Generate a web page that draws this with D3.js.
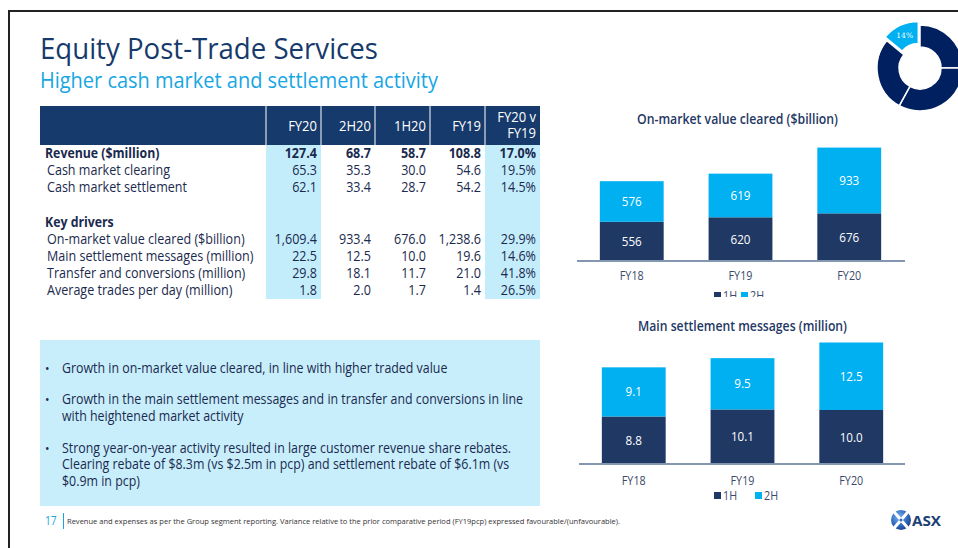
<!DOCTYPE html>
<html><head><meta charset="utf-8">
<script src="https://cdn.jsdelivr.net/npm/d3@7"></script>
<style>html,body{margin:0;padding:0;background:#fff;overflow:hidden;} svg{display:block;}</style>
</head><body>
<svg id="c" width="958" height="548"></svg>
<script>
// ---------------- DATA ----------------
const categories = ["FY18", "FY19", "FY20"];
const seriesKeys = ["1H", "2H"];
const clearedH1 = [556, 620, 676];
const clearedH2 = [576, 619, 933];
const messagesH1 = [8.8, 10.1, 10.0];
const messagesH2 = [9.1, 9.5, 12.5];

const tableHeaders = ["FY20", "2H20", "1H20", "FY19", "FY20 v|FY19"];
const rowLabels = ["Revenue ($million)", "Cash market clearing", "Cash market settlement", "Key drivers",
  "On-market value cleared ($billion)", "Main settlement messages (million)",
  "Transfer and conversions (million)", "Average trades per day (million)"];
const colFY20 = ["127.4", "65.3", "62.1", "", "1,609.4", "22.5", "29.8", "1.8"];
const col2H20 = ["68.7", "35.3", "33.4", "", "933.4", "12.5", "18.1", "2.0"];
const col1H20 = ["58.7", "30.0", "28.7", "", "676.0", "10.0", "11.7", "1.7"];
const colFY19 = ["108.8", "54.6", "54.2", "", "1,238.6", "19.6", "21.0", "1.4"];
const colChange = ["17.0%", "19.5%", "14.5%", "", "29.9%", "14.6%", "41.8%", "26.5%"];
const boldRows = [0, 3];

const bullets = [
  ["Growth in on-market value cleared, in line with higher traded value"],
  ["Growth in the main settlement messages and in transfer and conversions in line", "with heightened market activity"],
  ["Strong year-on-year activity resulted in large customer revenue share rebates.",
   "Clearing rebate of $8.3m (vs $2.5m in pcp) and settlement rebate of $6.1m (vs", "$0.9m in pcp)"]
];

const donutShares = [25, 33, 28, 14];
const donutLabel = "14%";

const titleText = "Equity Post-Trade Services";
const subtitleText = "Higher cash market and settlement activity";
const chart1Title = "On-market value cleared ($billion)";
const chart2Title = "Main settlement messages (million)";
const pageNumber = "17";
const footnote = "Revenue and expenses as per the Group segment reporting. Variance relative to the prior comparative period (FY19pcp) expressed favourable/(unfavourable).";

// ---------------- STYLE ----------------
const FONT = "'Open Sans', 'DejaVu Sans', sans-serif";
const NAVY = "#1f3864";
const LIGHT = "#00b0f0";
const TEXT = "#1a2a4e";
const HDR = "#163a6b";
const HILITE = "#c4edfc";

const svg = d3.select("#c").style("font-family", FONT);

function fitTo(sel, width) {
  sel.each(function () {
    this.setAttribute("textLength", width);
    this.setAttribute("lengthAdjust", "spacingAndGlyphs");
  });
}
function condense(sel, k) {
  sel.each(function () {
    const w = this.getComputedTextLength();
    if (w > 0) {
      this.setAttribute("textLength", w * k);
      this.setAttribute("lengthAdjust", "spacingAndGlyphs");
    }
  });
}
function measure(txt, size, weight) {
  const t = svg.append("text").attr("font-size", size).attr("font-weight", weight || 400).text(txt);
  const w = t.node().getComputedTextLength();
  t.remove();
  return w;
}
const K = 140 / measure("Cash market settlement", 14);

// ---------------- FRAME ----------------
svg.append("line").attr("x1", 8).attr("x2", 958).attr("y1", 11).attr("y2", 11)
  .attr("stroke", "#222").attr("stroke-width", 2);
svg.append("line").attr("x1", 9).attr("x2", 9).attr("y1", 11).attr("y2", 548)
  .attr("stroke", "#222").attr("stroke-width", 2);

// ---------------- TITLES ----------------
svg.append("text").attr("x", 40).attr("y", 59).attr("font-size", 29).attr("fill", "#173a6c")
  .text(titleText).call(fitTo, 338);
svg.append("text").attr("x", 40).attr("y", 88).attr("font-size", 21).attr("fill", "#17a6e4")
  .text(subtitleText).call(fitTo, 398);

// ---------------- DONUT ----------------
const pie = d3.pie().sort(null).value(d => d);
const arcs = pie(donutShares);
const arcGen = d3.arc().innerRadius(21).outerRadius(43);
const dg = svg.append("g").attr("transform", "translate(920,68)");
arcs.forEach((a, i) => {
  const light = i === arcs.length - 1;
  const mid = (a.startAngle + a.endAngle) / 2;
  const off = light ? 4 : 0;
  dg.append("path").attr("d", arcGen(a))
    .attr("transform", `translate(${off * Math.sin(mid)},${-off * Math.cos(mid)})`)
    .attr("fill", light ? LIGHT : "#002060").attr("stroke", "#fff").attr("stroke-width", 1.5);
  if (light) {
    const c = arcGen.centroid(a);
    dg.append("text").attr("x", c[0] + off * Math.sin(mid)).attr("y", c[1] - off * Math.cos(mid) + 2.5)
      .attr("text-anchor", "middle").attr("font-size", 7.5).attr("font-family", "'DejaVu Serif', serif")
      .attr("fill", "#fff").text(donutLabel);
  }
});

// ---------------- TABLE ----------------
const colEdges = [266, 321, 375, 430, 485, 540];
const rowY = [158, 175, 192, 227, 244, 261, 278, 295];
const columns = [colFY20, col2H20, col1H20, colFY19, colChange];
const tg = svg.append("g");
tg.append("rect").attr("x", 40).attr("y", 106).attr("width", 500).attr("height", 39).attr("fill", HDR);
[0, 4].forEach(ci => {
  tg.append("rect").attr("x", colEdges[ci]).attr("y", 145).attr("width", colEdges[ci + 1] - colEdges[ci])
    .attr("height", 154).attr("fill", HILITE);
});
colEdges.slice(0, 5).forEach(x => {
  tg.append("line").attr("x1", x).attr("x2", x).attr("y1", 106).attr("y2", 145)
    .attr("stroke", "#d9e1ea").attr("stroke-width", 1.2);
});
tableHeaders.forEach((h, i) => {
  const parts = h.split("|");
  const x = colEdges[i + 1] - 4;
  parts.forEach((p, j) => {
    const y = parts.length === 1 ? 131 : 122 + j * 16;
    tg.append("text").attr("x", x).attr("y", y).attr("text-anchor", "end").attr("font-size", 14.5)
      .attr("fill", "#fff").text(p).call(condense, K);
  });
});
rowLabels.forEach((lab, r) => {
  const bold = boldRows.includes(r);
  tg.append("text").attr("x", bold ? 45 : 47).attr("y", rowY[r]).attr("font-size", 14)
    .attr("font-weight", bold ? 700 : 400).attr("fill", TEXT).text(lab).call(condense, bold ? K * 0.98 : K);
  columns.forEach((col, ci) => {
    if (!col[r]) return;
    tg.append("text").attr("x", colEdges[ci + 1] - 4).attr("y", rowY[r]).attr("text-anchor", "end")
      .attr("font-size", 14).attr("font-weight", r === 0 ? 700 : 400).attr("fill", TEXT)
      .text(col[r]).call(condense, K);
  });
});

// ---------------- BULLET BOX ----------------
svg.append("rect").attr("x", 40).attr("y", 340).attr("width", 500).attr("height", 166).attr("fill", "#c8eefc");
const bulletY = [[373], [404, 421], [453, 469, 486]];
const KB = 461 / measure(bullets[1][0], 14);
bullets.forEach((lines, bi) => {
  svg.append("text").attr("x", 45).attr("y", bulletY[bi][0]).attr("font-size", 12).attr("fill", TEXT).text("•");
  lines.forEach((ln, li) => {
    svg.append("text").attr("x", 62).attr("y", bulletY[bi][li]).attr("font-size", 14).attr("fill", TEXT)
      .text(ln).call(condense, KB);
  });
});

// ---------------- BAR CHARTS ----------------
function barChart(opts) {
  const g = svg.append("g");
  if (opts.clipY) {
    const id = "clip" + opts.id;
    svg.append("defs").append("clipPath").attr("id", id).append("rect")
      .attr("x", 560).attr("y", 90).attr("width", 400).attr("height", opts.clipY - 90);
    g.attr("clip-path", `url(#${id})`);
  }
  const rows = categories.map((c, i) => ({ cat: c, "1H": opts.h1[i], "2H": opts.h2[i] }));
  const x = d3.scaleBand().domain(categories).range(opts.xRange).paddingInner(0.413).paddingOuter(0.21);
  const y = d3.scaleLinear().domain(opts.yDomain).range(opts.yRange);
  const stack = d3.stack().keys(seriesKeys)(rows);
  const colors = { "1H": NAVY, "2H": LIGHT };

  g.append("text").attr("x", opts.titleX).attr("y", opts.titleY).attr("text-anchor", "middle")
    .attr("font-size", 14.5).attr("font-weight", 600).attr("fill", NAVY).text(opts.title).call(fitTo, opts.titleW);

  stack.forEach(layer => {
    const lg = g.append("g");
    lg.selectAll("rect").data(layer).join("rect")
      .attr("x", d => x(d.data.cat)).attr("width", x.bandwidth())
      .attr("y", d => y(d[1])).attr("height", d => y(d[0]) - y(d[1]))
      .attr("fill", colors[layer.key]);
    lg.selectAll("text").data(layer).join("text")
      .attr("x", d => x(d.data.cat) + x.bandwidth() / 2)
      .attr("y", d => (y(d[0]) + y(d[1])) / 2 + 4.5)
      .attr("text-anchor", "middle").attr("font-size", 13).attr("fill", "#fff")
      .text(d => opts.fmt(d.data[layer.key]))
      .call(condense, K);
  });

  const ax = g.append("g").attr("transform", `translate(0,${opts.yRange[0]})`)
    .call(d3.axisBottom(x).tickSize(0).tickPadding(opts.tickPad).tickSizeOuter(0));
  ax.select(".domain").attr("stroke", "#8497b0").attr("stroke-width", 2)
    .attr("d", `M${opts.xRange[0]},0H${opts.axisEnd}`);
  ax.selectAll("text").attr("font-size", 12).attr("fill", "#3b4a6b").attr("font-family", FONT)
    .call(condense, K);

  // legend
  seriesKeys.forEach((k, i) => {
    g.append("rect").attr("x", opts.legX[i]).attr("y", opts.legY - 8).attr("width", 7).attr("height", 7)
      .attr("fill", colors[k]);
    g.append("text").attr("x", opts.legX[i] + 9).attr("y", opts.legY).attr("font-size", 12)
      .attr("fill", "#3b4a6b").text(k).call(condense, K);
  });
}

barChart({
  id: 1, h1: clearedH1, h2: clearedH2, xRange: [577, 904], axisEnd: 905,
  yDomain: [0, 2000], yRange: [261, 120], tickPad: 10.5,
  title: chart1Title, titleX: 737.5, titleY: 124, titleW: 201,
  fmt: d3.format("d"), legX: [714, 741], legY: 300, clipY: 297
});
barChart({
  id: 2, h1: messagesH1, h2: messagesH2, xRange: [579, 906], axisEnd: 905,
  yDomain: [0, 25], yRange: [464, 329], tickPad: 12.5,
  title: chart2Title, titleX: 742.5, titleY: 331, titleW: 209,
  fmt: d3.format(".1f"), legX: [714, 755], legY: 500
});

// ---------------- FOOTER ----------------
svg.append("text").attr("x", 45).attr("y", 525).attr("font-size", 12).attr("fill", "#1aa3de").text(pageNumber)
  .call(condense, 0.85);
svg.append("line").attr("x1", 63.5).attr("x2", 63.5).attr("y1", 513).attr("y2", 529)
  .attr("stroke", "#1aa3de").attr("stroke-width", 1);
svg.append("text").attr("x", 67).attr("y", 524).attr("font-size", 8).attr("fill", "#333")
  .text(footnote).call(fitTo, 553);

// ASX logo
const defs = svg.append("defs");
const grad = defs.append("radialGradient").attr("id", "asxg").attr("cx", "40%").attr("cy", "35%").attr("r", "70%");
grad.append("stop").attr("offset", "0%").attr("stop-color", "#7fb2ea");
grad.append("stop").attr("offset", "60%").attr("stop-color", "#2f6bc0");
grad.append("stop").attr("offset", "100%").attr("stop-color", "#1b3f86");
svg.append("circle").attr("cx", 901).attr("cy", 520).attr("r", 10).attr("fill", "url(#asxg)");
svg.append("path").attr("d", "M895,513 L907,527 M907,513 L895,527").attr("stroke", "#fff")
  .attr("stroke-width", 3).attr("stroke-linecap", "round");
svg.append("circle").attr("cx", 901).attr("cy", 520).attr("r", 1.6).attr("fill", "#2f6bc0");
svg.append("text").attr("x", 912).attr("y", 526).attr("font-size", 15).attr("font-weight", 700)
  .attr("fill", "#1c3f75").text("ASX").call(fitTo, 29);
</script>
</body></html>
